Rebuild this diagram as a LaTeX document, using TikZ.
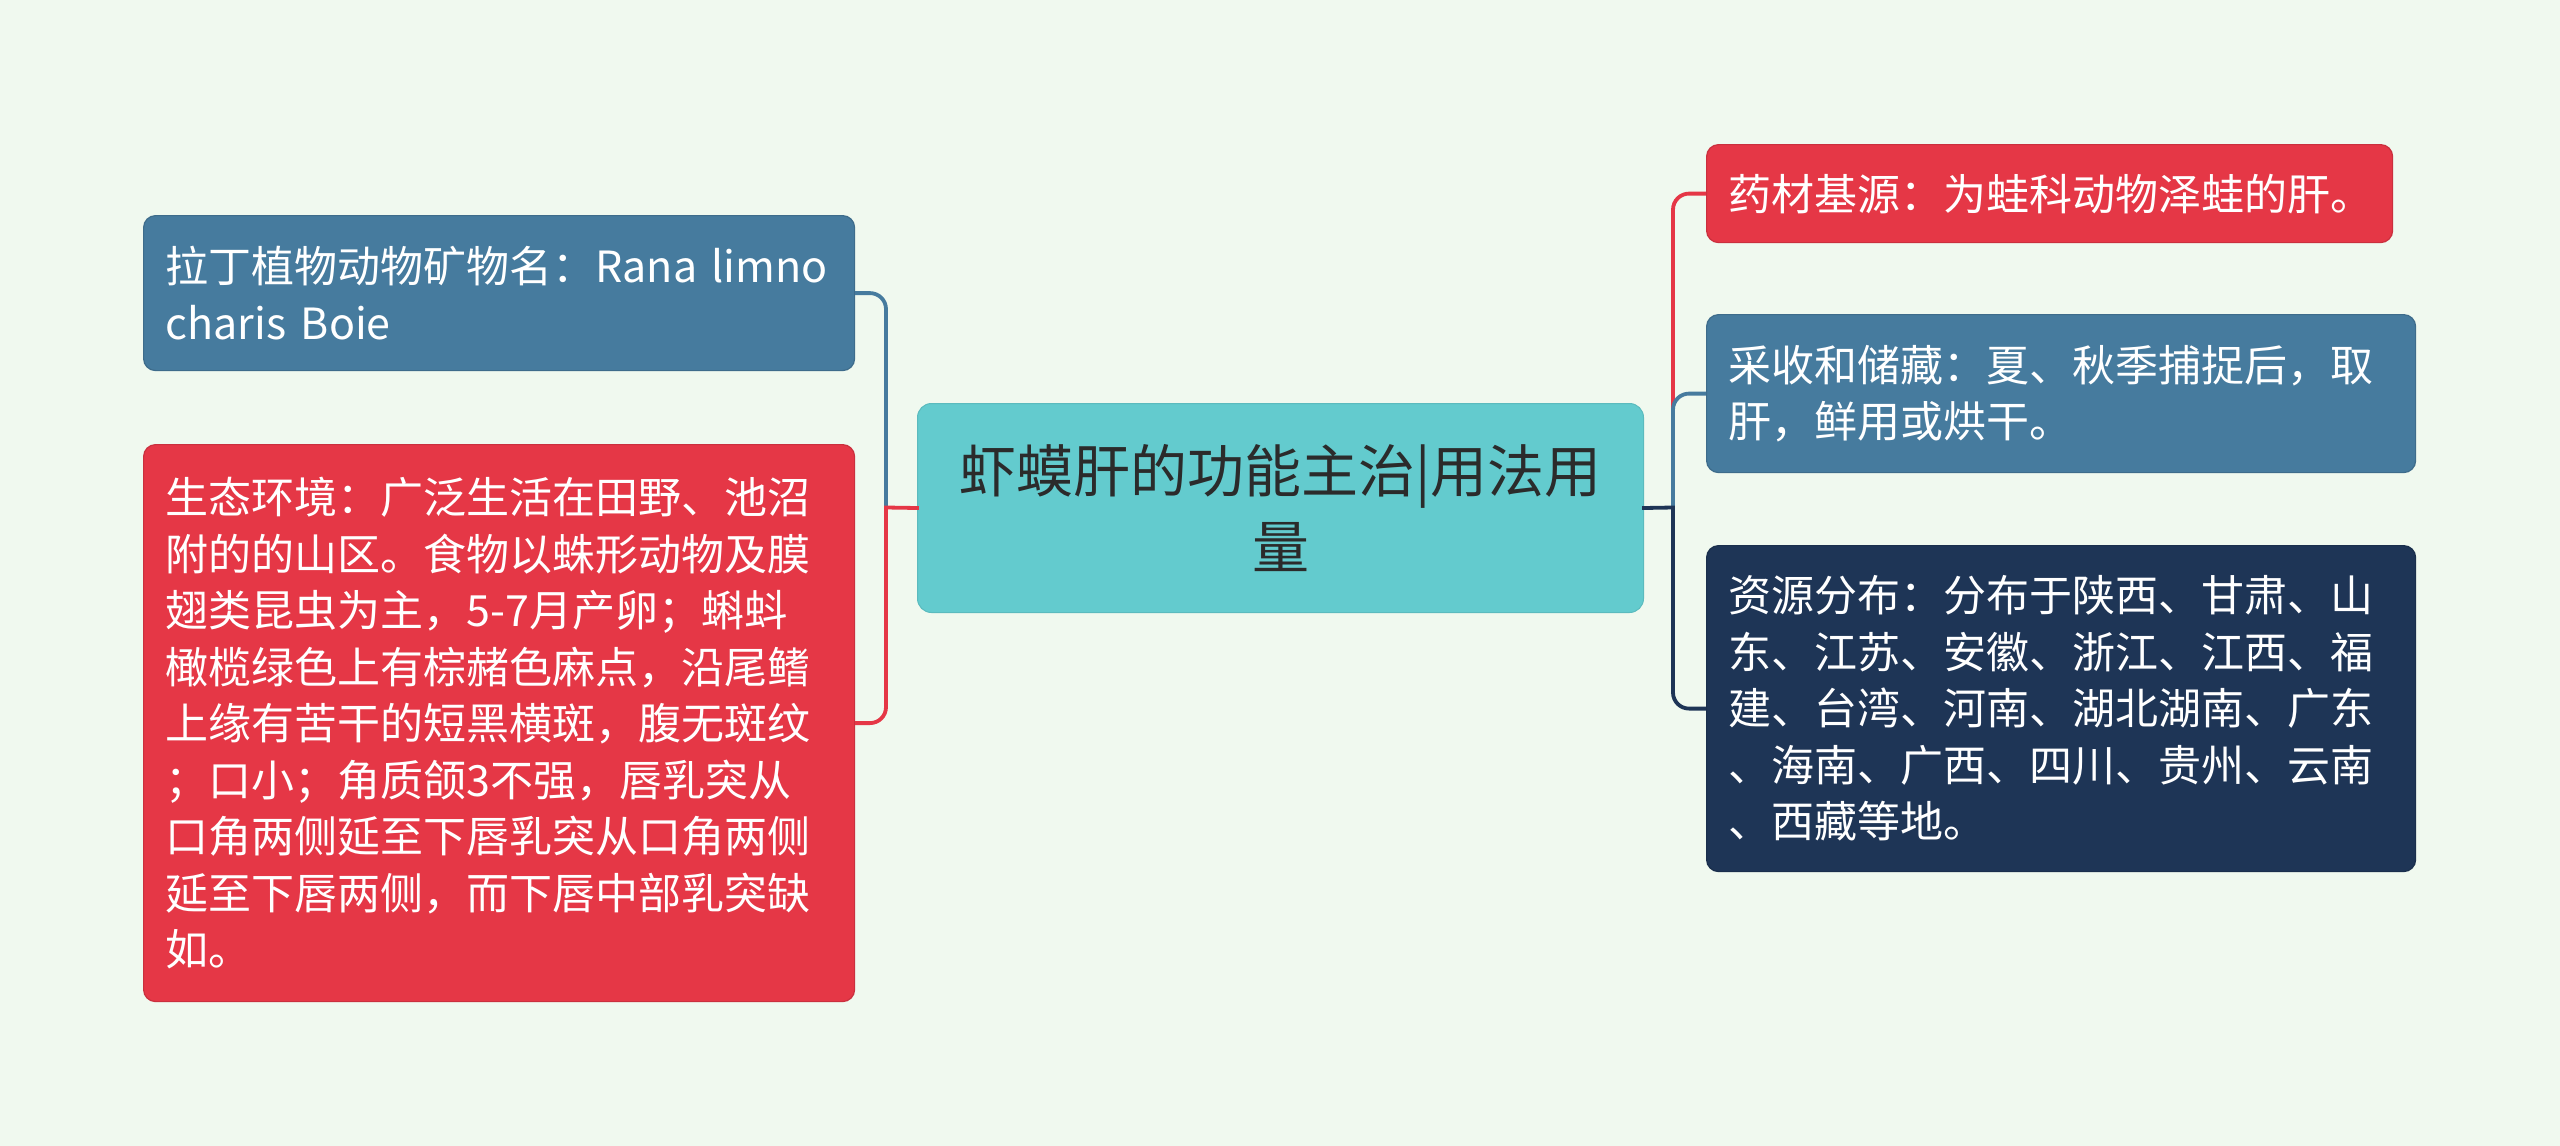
\documentclass[tikz,border=0pt]{standalone}
\usepackage{fontspec}
\setmainfont{Noto Sans CJK SC}
\definecolor{bg}{HTML}{F0F9EF}
\definecolor{cblue}{HTML}{467B9E}
\definecolor{cred}{HTML}{E53746}
\definecolor{cnavy}{HTML}{1E3556}
\definecolor{cteal}{HTML}{63CBCE}
\definecolor{ctext}{HTML}{2B2B2B}
\begin{document}
\begin{tikzpicture}[x=1pt,y=-1pt,
  box/.style={anchor=north west, rounded corners=12pt, inner xsep=22pt, inner ysep=0pt,
    align=left, text=white, font=\fontsize{43}{56.5}\selectfont, line width=1.2pt},
  centerbox/.style={anchor=north west, rounded corners=14pt, inner xsep=0pt, inner ysep=0pt,
    align=center, text=ctext, font=\fontsize{57}{76}\selectfont, fill=cteal, draw=cteal!92!black, line width=1pt},
  link/.style={line width=3.8pt, rounded corners=16pt},
  stem/.style={line width=3.8pt, line cap=rect}]
\fill[bg] (0,0) rectangle (2560,1146);
\useasboundingbox (0,0) rectangle (2560,1146);

% central node
\node[centerbox, text width=726pt, minimum height=209pt] (c) at (917,403)
  {虾蟆肝的功能主治|用法用\\量};

% left nodes
\node[box, fill=cblue, draw=cblue!88!black, text width=667pt, minimum height=155pt] (lb) at (143,215)
  {拉丁植物动物矿物名：Rana~limno\\charis~Boie};
\node[box, fill=cred, draw=cred!88!black, text width=667pt, minimum height=557pt] (lr) at (143,444)
  {生态环境：广泛生活在田野、池沼\\
   附的的山区。食物以蛛形动物及膜\\
   翅类昆虫为主，5-7月产卵；蝌蚪\\
   橄榄绿色上有棕赭色麻点，沿尾鳍\\
   上缘有苦干的短黑横斑，腹无斑纹\\
   ；口小；角质颌3不强，唇乳突从\\
   口角两侧延至下唇乳突从口角两侧\\
   延至下唇两侧，而下唇中部乳突缺\\
   如。};

% right nodes
\node[box, fill=cred, draw=cred!88!black, text width=642pt, minimum height=98pt] (rr) at (1706,144)
  {药材基源：为蛙科动物泽蛙的肝。};
\node[box, fill=cblue, draw=cblue!88!black, text width=665pt, minimum height=158pt] (rb) at (1706,314)
  {采收和储藏：夏、秋季捕捉后，取\\肝，鲜用或烘干。};
\node[box, fill=cnavy, draw=cnavy!88!black, text width=665pt, minimum height=326pt] (rn) at (1706,545)
  {资源分布：分布于陕西、甘肃、山\\
   东、江苏、安徽、浙江、江西、福\\
   建、台湾、河南、湖北湖南、广东\\
   、海南、广西、四川、贵州、云南\\
   、西藏等地。};

% junctions
\coordinate (jl) at (886,507.5);
\coordinate (jr) at (1673,507.5);

% left connectors
\draw[link, cblue] (jl) |- (lb.east);
\draw[link, cred] (jl) |- (lr.east);
\draw[stem, cred] (c.west) -- (jl);

% right connectors
\draw[link, cred] (jr) |- (rr.west);
\draw[link, cblue] (jr) |- (rb.west);
\draw[link, cnavy] (jr) |- (rn.west);
\draw[stem, cnavy] (c.east) -- (jr);
\end{tikzpicture}
\end{document}
